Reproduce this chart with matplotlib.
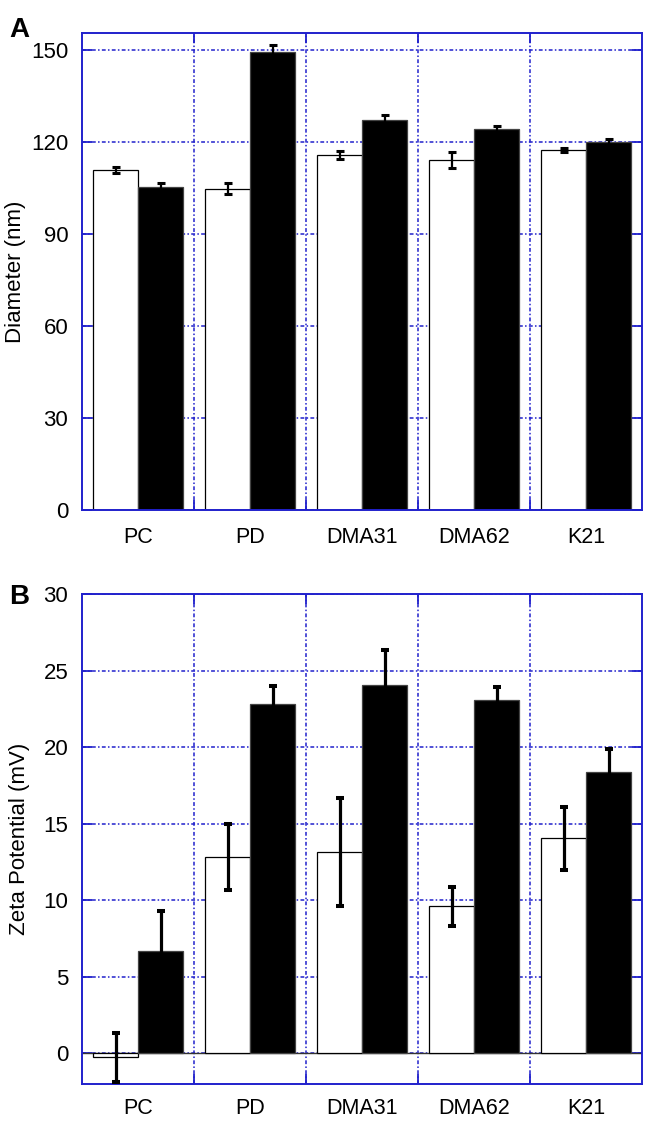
import numpy as np
import matplotlib
matplotlib.use('Agg')
import matplotlib.pyplot as plt

plt.rcParams['font.family'] = ['Liberation Sans', 'DejaVu Sans']

groups = ['PC', 'PD', 'DMA31', 'DMA62', 'K21']

# panel A: diameter (nm)
diam_white = [110.9, 104.7, 115.8, 114.1, 117.3]
diam_white_err = [1.0, 1.8, 1.3, 2.7, 0.5]
diam_black = [105.3, 149.4, 127.1, 124.2, 120.0]
diam_black_err = [1.2, 2.0, 1.5, 1.0, 1.0]

# panel B: zeta potential (mV)
zeta_white = [-0.25, 12.85, 13.15, 9.6, 14.05]
zeta_white_err = [1.6, 2.15, 3.5, 1.3, 2.05]
zeta_black = [6.7, 22.8, 24.05, 23.05, 18.4]
zeta_black_err = [2.6, 1.2, 2.3, 0.9, 1.5]

BLUE = '#2020cc'


def draw_panel(ax, white, white_err, black, black_err, yticks, ylim, ylabel, lw_err, xpad):
    n = len(groups)
    x = np.arange(n)
    ax.set_axisbelow(True)
    ax.bar(x + 0.1, white, width=0.4, align='edge', color='white', edgecolor='black', linewidth=0.9, zorder=2)
    ax.bar(x + 0.5, black, width=0.4, align='edge', color='black', edgecolor='#444444', linewidth=0.9, zorder=2)
    ax.errorbar(x + 0.3, white, yerr=white_err, fmt='none', ecolor='black', elinewidth=lw_err, capsize=3.2, capthick=lw_err + 0.6, zorder=3)
    ax.errorbar(x + 0.7, black, yerr=black_err, fmt='none', ecolor='black', elinewidth=lw_err, capsize=3.2, capthick=lw_err + 0.6, zorder=3)

    ax.set_xlim(0, n)
    ax.set_ylim(*ylim)
    ax.set_xticks(x + 0.5)
    ax.set_xticklabels(groups)
    ax.set_xticks(np.arange(1, n), minor=True)
    ax.set_yticks(yticks)
    ax.tick_params(axis='x', which='major', length=0, labelsize=15.5, pad=xpad)
    ax.tick_params(axis='x', which='minor', direction='in', length=7.5, width=1.3, color=BLUE, top=True, bottom=True)
    ax.tick_params(axis='y', direction='in', length=7.5, width=1.3, color=BLUE, left=True, right=True, labelsize=16, pad=10)
    ax.grid(True, axis='x', which='minor', color=BLUE, linestyle=(0, (2.5, 1.5, 1, 1.5)), linewidth=1.1)
    ax.grid(True, axis='y', which='major', color=BLUE, linestyle=(0, (2.5, 1.5, 1, 1.5)), linewidth=1.1)
    for s in ax.spines.values():
        s.set_color(BLUE)
        s.set_linewidth(1.4)
    ax.set_ylabel(ylabel, fontsize=16)


fig = plt.figure(figsize=(6.52, 11.23), dpi=100)

axA = fig.add_axes([0.126, 0.546, 0.859, 0.4245])
draw_panel(axA, diam_white, diam_white_err, diam_black, diam_black_err,
           [0, 30, 60, 90, 120, 150], (0, 155.4), 'Diameter (nm)', 1.6, 12)
axA.yaxis.set_label_coords(-0.1, 0.5)

axB = fig.add_axes([0.126, 0.0347, 0.859, 0.4363])
draw_panel(axB, zeta_white, zeta_white_err, zeta_black, zeta_black_err,
           [0, 5, 10, 15, 20, 25, 30], (-2, 30), 'Zeta Potential (mV)', 2.3, 10)
axB.axhline(0, color='#333333', linewidth=1.0, zorder=1.5)
axB.yaxis.set_label_coords(-0.094, 0.5)

fig.text(0.014, 0.973, 'A', fontsize=20, fontweight='bold', va='center')
fig.text(0.014, 0.468, 'B', fontsize=20, fontweight='bold', va='center')

fig.savefig('out.png', dpi=100)
